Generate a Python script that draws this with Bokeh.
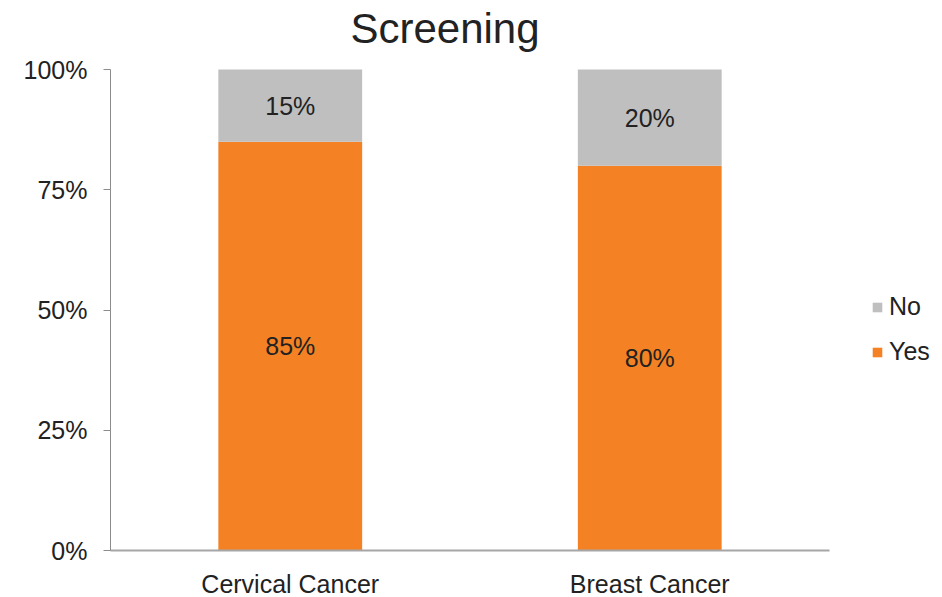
from bokeh.plotting import figure
from bokeh.models import (ColumnDataSource, FixedTicker, NumeralTickFormatter,
                          Range1d, Legend, LegendItem, Label)
from bokeh.core.properties import value
from bokeh.embed import file_html
from bokeh.resources import INLINE

# Share of respondents screened, per cancer type
categories = ["Cervical Cancer", "Breast Cancer"]
yes_share = [0.85, 0.80]
no_share = [0.15, 0.20]
y_ticks = [0, 0.25, 0.5, 0.75, 1.0]

FONT = "Liberation Sans"
TEXT = "#222222"
ORANGE = "#F48224"
GREY = "#BFBFBF"

source = ColumnDataSource(dict(
    cat=categories,
    yes=yes_share,
    no=no_share,
    yes_mid=[v / 2 for v in yes_share],
    no_mid=[y + n / 2 for y, n in zip(yes_share, no_share)],
    yes_lbl=[f"{round(v * 100)}%" for v in yes_share],
    no_lbl=[f"{round(v * 100)}%" for v in no_share],
))

# The frame runs to the top of the canvas so the title can sit inside it;
# the value axis itself is bounded to 0-100 %.
PLOT_H = 481
TOP_SPACE = 69
p = figure(x_range=categories,
           y_range=Range1d(0, 1 + TOP_SPACE / PLOT_H),
           frame_width=719, frame_height=PLOT_H + TOP_SPACE,
           output_backend="svg", toolbar_location=None,
           min_border_left=110, min_border_right=0,
           min_border_top=0, min_border_bottom=47)
p.outline_line_color = None
p.xgrid.grid_line_color = None
p.ygrid.grid_line_color = None
p.x_range.range_padding = 0

renderers = p.vbar_stack(["yes", "no"], x="cat", width=0.4, source=source,
                         color=[ORANGE, GREY], line_color=None)

# Segment value labels
p.text(x="cat", y="yes_mid", text="yes_lbl", source=source,
       text_align="center", text_baseline="middle",
       text_font=value(FONT), text_font_size="25px", text_color=TEXT)
p.text(x="cat", y="no_mid", text="no_lbl", source=source,
       text_align="center", text_baseline="middle",
       text_font=value(FONT), text_font_size="25px", text_color=TEXT)

# Title
p.add_layout(Label(x=1.0, y=1.0, x_offset=-25, y_offset=41, text="Screening",
                   text_align="center", text_baseline="alphabetic",
                   text_font=FONT, text_font_size="42px", text_color=TEXT))

# Axes
p.yaxis.ticker = FixedTicker(ticks=y_ticks)
p.yaxis.bounds = (0, 1)
p.yaxis.formatter = NumeralTickFormatter(format="0%")
p.yaxis.axis_line_color = "#8C8C8C"
p.yaxis.major_tick_line_color = "#8C8C8C"
p.yaxis.major_tick_out = 7
p.yaxis.major_tick_in = 0
p.yaxis.minor_tick_line_color = None
p.yaxis.major_label_standoff = 16
p.yaxis.major_label_text_font = FONT
p.yaxis.major_label_text_font_size = "25px"
p.yaxis.major_label_text_color = TEXT

p.xaxis.axis_line_color = "#A6A6A6"
p.xaxis.axis_line_width = 2
p.xaxis.major_tick_line_color = None
p.xaxis.minor_tick_line_color = None
p.xaxis.major_label_standoff = 13
p.xaxis.major_label_text_font = FONT
p.xaxis.major_label_text_font_size = "25px"
p.xaxis.major_label_text_color = TEXT

legend = Legend(items=[LegendItem(label="No", renderers=[renderers[1]]),
                       LegendItem(label="Yes", renderers=[renderers[0]])],
                location=(42, 184), margin=0, padding=5, spacing=16,
                glyph_width=12, glyph_height=12, label_height=25,
                label_standoff=6, border_line_color=None,
                background_fill_alpha=0,
                label_text_font=FONT, label_text_font_size="25px",
                label_text_color=TEXT)
p.add_layout(legend, "right")

open("out.html", "w").write(file_html(p, INLINE))
